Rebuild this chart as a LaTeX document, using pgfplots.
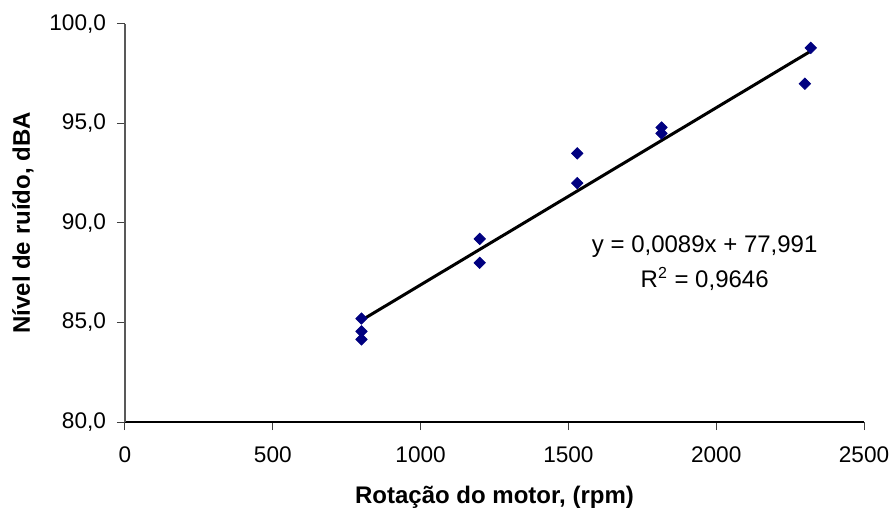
\documentclass[border=0pt]{standalone}
\usepackage{pgfplots}
\pgfplotsset{compat=1.18}
\usepackage{fontspec}
\setmainfont{Liberation Sans}
\definecolor{ptnavy}{RGB}{0,0,128}

\begin{document}
\begin{tikzpicture}
% frame of the whole picture (axis box lower left sits at 0,0)
\useasboundingbox (-62.5pt,-43pt) rectangle (384pt,211pt);
\begin{axis}[
    scale only axis,
    width=369.5pt, height=199pt,
    xmin=0, xmax=2500,
    ymin=80, ymax=100,
    xtick={0,500,...,2500},
    ytick={80,85,...,100},
    axis x line*=bottom,
    axis y line*=left,
    x axis line style={black, line width=0.6pt, -},
    y axis line style={black!65, line width=0.6pt, -},
    tick align=outside,
    major tick length=4pt,
    tick style={black!75, line width=0.5pt},
    xtick pos=bottom, ytick pos=left,
    font=\fontsize{11.3}{13}\selectfont,
    /pgf/number format/assume math mode=true,
    /pgf/number format/use comma,
    yticklabel={\pgfmathprintnumber[fixed,fixed zerofill,precision=1,use comma]{\tick}},
    xticklabel={\pgfmathprintnumber[fixed,precision=0,1000 sep={}]{\tick}},
    xticklabel style={yshift=-5pt},
    yticklabel style={xshift=-2pt},
    xlabel={\fontsize{12}{14}\selectfont\bfseries Rotação do motor, (rpm)},
    ylabel={\fontsize{12}{14}\selectfont\bfseries Nível de ruído, dBA},
    xlabel style={at={(axis description cs:0.5,0)}, anchor=center, yshift=-37.5pt},
    ylabel style={at={(axis description cs:0,0.5)}, anchor=center, xshift=0pt, yshift=51pt},
    clip=false,
]
% trend line y = 0.0089x + 77.991
\addplot[black, line width=1.5pt, no marks] coordinates {(800,85.111) (2320,98.639)};
% measurements
\addplot[only marks, mark=square*, mark size=2pt,
    mark options={rotate=45, fill=ptnavy, draw=ptnavy}] coordinates {
    (800,85.2) (800,84.55) (800,84.15)
    (1200,89.2) (1200,88.0)
    (1530,93.5) (1530,92.0)
    (1815,94.8) (1815,94.5)
    (2300,97.0) (2320,98.8)
};
\node[align=center, font=\fontsize{12}{17.5}\selectfont] at (axis cs:1961,88.0)
    {y = 0,0089x + 77,991\\R\textsuperscript{2} = 0,9646};
\end{axis}
\end{tikzpicture}
\end{document}
